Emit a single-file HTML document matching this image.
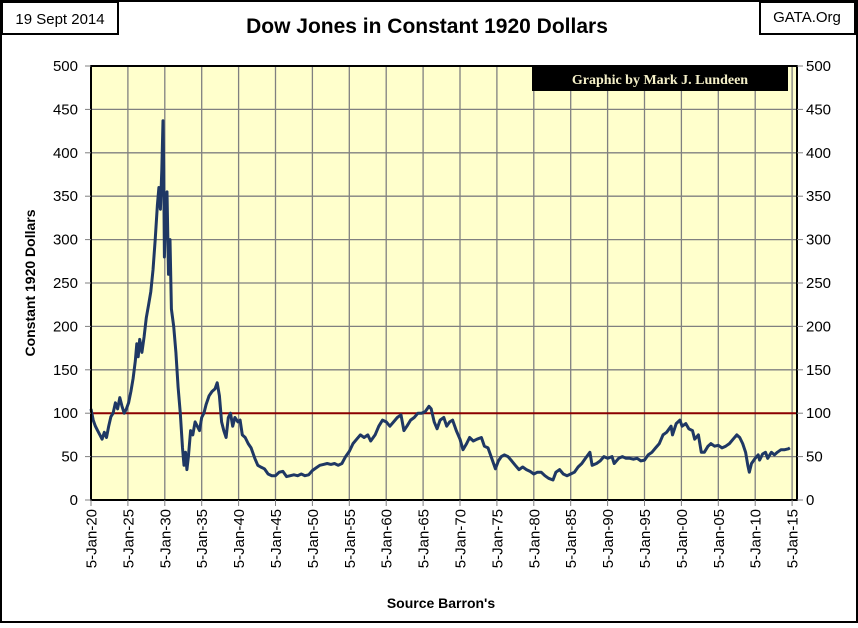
<!DOCTYPE html>
<html><head><meta charset="utf-8"><style>
body{margin:0;background:#fff}
svg text{font-family:"Liberation Sans",sans-serif}
</style></head><body>
<svg id="chart" width="858" height="623" viewBox="0 0 858 623" xmlns="http://www.w3.org/2000/svg">
<rect x="1" y="1" width="856" height="621" fill="#fff" stroke="#000" stroke-width="2"/>
<rect x="2" y="2" width="116" height="32" fill="#fff" stroke="#000" stroke-width="2"/>
<text x="60" y="24" font-size="15" text-anchor="middle">19 Sept 2014</text>
<rect x="760" y="2" width="95" height="32" fill="#fff" stroke="#000" stroke-width="2"/>
<text x="807" y="22" font-size="15" text-anchor="middle">GATA.Org</text>
<text x="427" y="33" font-size="21" font-weight="bold" text-anchor="middle">Dow Jones in Constant 1920 Dollars</text>
<rect x="91" y="66" width="706" height="434" fill="#ffffcc"/>
<g id="grid"></g>
<rect x="532" y="66" width="256" height="25" fill="#000"/>
<text x="660" y="84" font-size="14" font-weight="bold" fill="#f5f0c8" text-anchor="middle" style="font-family:'Liberation Serif',serif">Graphic by Mark J. Lundeen</text>
<g id="series"></g>
<rect x="91" y="66" width="706" height="434" fill="none" stroke="#000" stroke-width="2"/>
<g id="axes"></g>
<text transform="translate(35,283) rotate(-90)" font-size="14" font-weight="bold" text-anchor="middle">Constant 1920 Dollars</text>
<text x="441" y="608" font-size="14" font-weight="bold" text-anchor="middle">Source Barron's</text>
</svg>
<script>
const yTicks=[0,50,100,150,200,250,300,350,400,450,500];
const xTickYears=[1920,1925,1930,1935,1940,1945,1950,1955,1960,1965,1970,1975,1980,1985,1990,1995,2000,2005,2010,2015];
const xTickLabels=["5-Jan-20","5-Jan-25","5-Jan-30","5-Jan-35","5-Jan-40","5-Jan-45","5-Jan-50","5-Jan-55","5-Jan-60","5-Jan-65","5-Jan-70","5-Jan-75","5-Jan-80","5-Jan-85","5-Jan-90","5-Jan-95","5-Jan-00","5-Jan-05","5-Jan-10","5-Jan-15"];
const refLevel=100;
const years=[1920.0,1920.3,1920.6,1920.9,1921.2,1921.5,1921.8,1922.1,1922.4,1922.7,1923.0,1923.3,1923.6,1923.9,1924.2,1924.5,1924.8,1925.1,1925.4,1925.7,1926.0,1926.2,1926.4,1926.6,1926.9,1927.2,1927.5,1927.8,1928.1,1928.4,1928.7,1929.0,1929.2,1929.4,1929.6,1929.75,1929.85,1929.95,1930.1,1930.3,1930.5,1930.7,1930.9,1931.2,1931.5,1931.8,1932.1,1932.4,1932.6,1932.8,1933.0,1933.2,1933.5,1933.8,1934.1,1934.4,1934.7,1935.0,1935.3,1935.6,1936.0,1936.4,1936.8,1937.1,1937.4,1937.7,1938.0,1938.3,1938.6,1938.9,1939.2,1939.5,1939.9,1940.2,1940.5,1940.9,1941.3,1941.7,1942.2,1942.6,1943.0,1943.5,1944.0,1944.5,1945.0,1945.5,1946.0,1946.5,1947.0,1947.5,1948.0,1948.5,1949.0,1949.5,1950.0,1950.5,1951.0,1951.5,1952.0,1952.5,1953.0,1953.5,1954.0,1954.5,1955.0,1955.5,1956.0,1956.5,1957.0,1957.5,1957.9,1958.5,1959.0,1959.5,1960.0,1960.5,1961.0,1961.5,1962.0,1962.4,1962.8,1963.3,1963.8,1964.3,1964.8,1965.3,1965.8,1966.1,1966.5,1966.9,1967.3,1967.8,1968.2,1968.6,1969.0,1969.5,1970.0,1970.4,1970.9,1971.3,1971.8,1972.3,1972.9,1973.3,1973.8,1974.3,1974.8,1975.2,1975.6,1976.0,1976.5,1977.0,1977.5,1978.0,1978.5,1979.0,1979.5,1980.0,1980.5,1981.0,1981.5,1982.0,1982.6,1983.0,1983.5,1984.0,1984.5,1985.0,1985.5,1986.0,1986.5,1987.0,1987.6,1987.9,1988.5,1989.0,1989.5,1990.0,1990.6,1990.9,1991.5,1992.0,1992.5,1993.0,1993.5,1994.0,1994.5,1995.0,1995.5,1996.0,1996.5,1997.0,1997.5,1998.0,1998.6,1998.8,1999.3,1999.8,2000.1,2000.6,2001.0,2001.5,2001.8,2002.3,2002.7,2003.1,2003.6,2004.0,2004.5,2005.0,2005.5,2006.0,2006.5,2007.0,2007.5,2007.9,2008.3,2008.7,2009.0,2009.2,2009.5,2010.0,2010.4,2010.6,2011.0,2011.4,2011.7,2012.2,2012.6,2013.0,2013.5,2014.0,2014.5,2014.7];
const values=[105,92,85,80,75,70,78,72,85,96,100,112,105,118,108,100,105,112,125,140,160,180,165,185,170,188,210,225,240,265,300,340,360,335,380,437,380,280,330,355,260,300,220,200,170,130,100,60,40,55,35,50,80,75,90,85,80,95,100,110,120,125,128,135,120,90,80,72,95,100,85,95,90,92,75,72,65,60,48,40,38,36,30,28,28,32,33,27,28,29,28,30,28,29,34,37,40,41,42,41,42,40,42,50,56,65,70,75,72,75,68,75,85,92,90,85,90,95,98,80,85,92,95,100,100,102,108,105,90,82,92,95,85,90,92,80,70,58,65,72,68,70,72,62,60,48,36,45,50,52,50,45,40,35,38,35,33,30,32,32,28,25,23,32,35,30,28,30,32,38,42,48,55,40,42,45,50,48,50,42,48,50,48,48,47,48,45,46,52,55,60,65,75,78,85,75,88,92,85,88,82,80,70,75,55,55,62,65,62,63,60,62,65,70,75,72,65,55,40,32,42,48,52,46,53,55,48,55,52,55,58,58,59,60];

const NS="http://www.w3.org/2000/svg";
const L=91,R=797,T=66,B=500;
function xs(yr){return L+(yr-1920)*(36.9/5);}
function ys(v){return B-v*(B-T)/500;}
function mk(tag,attrs,parent){const e=document.createElementNS(NS,tag);for(const k in attrs)e.setAttribute(k,attrs[k]);parent.appendChild(e);return e;}
const grid=document.getElementById('grid'),axes=document.getElementById('axes'),series=document.getElementById('series');
yTicks.forEach(v=>{
  const g=mk('line',{x1:L,x2:R,y1:ys(v),y2:ys(v),stroke:'#808080','stroke-width':1.3},grid);
  
  
  const t1=mk('line',{x1:L-6,x2:L,y1:ys(v),y2:ys(v),stroke:'#808080'},axes);
  
  
  const t2=mk('line',{x1:R,x2:R+6,y1:ys(v),y2:ys(v),stroke:'#808080'},axes);
  
  
  const a=mk('text',{x:78,y:ys(v)+5,'font-size':15,'text-anchor':'end'},axes);a.textContent=v;
  
  
  const b=mk('text',{x:806,y:ys(v)+5,'font-size':15},axes);b.textContent=v;
  
  
});
xTickYears.forEach((yr,i)=>{
  const x=xs(yr);
  if(x>L+1&&x<R-1){const g=mk('line',{x1:x,x2:x,y1:T,y2:B,stroke:'#808080','stroke-width':1.3},grid);
  
  }
  const t=mk('line',{x1:x,x2:x,y1:B,y2:B+6,stroke:'#808080'},axes);
  
  
  const lb=mk('text',{transform:`translate(${x+5.5},509) rotate(-90)`,'font-size':15,'text-anchor':'end'},axes);
  lb.textContent=xTickLabels[i];
  
  
});
const ref=mk('line',{x1:L,x2:R,y1:ys(refLevel),y2:ys(refLevel),stroke:'#8b0000','stroke-width':2},series);


const pts=years.map((y,i)=>xs(y).toFixed(1)+','+ys(values[i]).toFixed(1)).join(' ');
const line=mk('polyline',{points:pts,fill:'none',stroke:'#1f3864','stroke-width':3,'stroke-linejoin':'round'},series);


</script>
</body></html>
